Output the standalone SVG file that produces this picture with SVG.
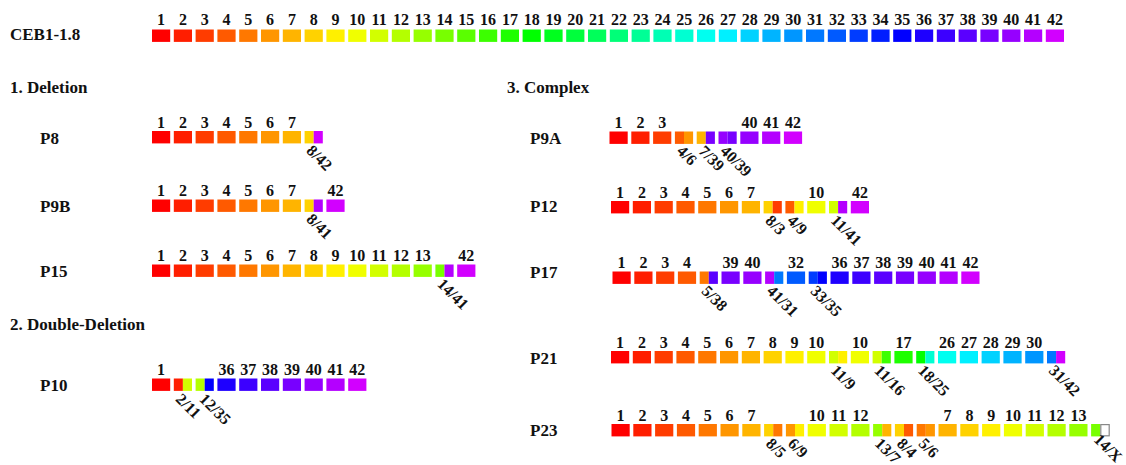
<svg xmlns="http://www.w3.org/2000/svg" width="1126" height="465" viewBox="0 0 1126 465">
<style>
text{font-family:"Liberation Serif","Times New Roman",serif;font-weight:bold;fill:#111}
.n{font-size:16px;text-anchor:middle}
.b{font-size:16px}
.t{font-size:17px}
.c1{fill:hsl(0,100%,50%)}.c2{fill:hsl(7.06,100%,50%)}.c3{fill:hsl(14.12,100%,50%)}.c4{fill:hsl(21.18,100%,50%)}.c5{fill:hsl(28.24,100%,50%)}.c6{fill:hsl(35.29,100%,50%)}.c7{fill:hsl(42.35,100%,50%)}.c8{fill:hsl(49.41,100%,50%)}.c9{fill:hsl(56.47,100%,50%)}.c10{fill:hsl(63.53,100%,50%)}.c11{fill:hsl(70.59,100%,50%)}.c12{fill:hsl(77.65,100%,50%)}.c13{fill:hsl(84.71,100%,50%)}.c14{fill:hsl(91.76,100%,50%)}.c15{fill:hsl(98.82,100%,50%)}.c16{fill:hsl(105.88,100%,50%)}.c17{fill:hsl(112.94,100%,50%)}.c18{fill:hsl(120,100%,50%)}.c19{fill:hsl(127.06,100%,50%)}.c20{fill:hsl(134.12,100%,50%)}.c21{fill:hsl(141.18,100%,50%)}.c22{fill:hsl(148.24,100%,50%)}.c23{fill:hsl(155.29,100%,50%)}.c24{fill:hsl(162.35,100%,50%)}.c25{fill:hsl(169.41,100%,50%)}.c26{fill:hsl(176.47,100%,50%)}.c27{fill:hsl(183.53,100%,50%)}.c28{fill:hsl(190.59,100%,50%)}.c29{fill:hsl(197.65,100%,50%)}.c30{fill:hsl(204.71,100%,50%)}.c31{fill:hsl(211.76,100%,50%)}.c32{fill:hsl(218.82,100%,50%)}.c33{fill:hsl(225.88,100%,50%)}.c34{fill:hsl(232.94,100%,50%)}.c35{fill:hsl(240,100%,50%)}.c36{fill:hsl(247.06,100%,50%)}.c37{fill:hsl(254.12,100%,50%)}.c38{fill:hsl(261.18,100%,50%)}.c39{fill:hsl(268.24,100%,50%)}.c40{fill:hsl(275.29,100%,50%)}.c41{fill:hsl(282.35,100%,50%)}.c42{fill:hsl(289.41,100%,50%)}
.cx{fill:#fff;stroke:#888;stroke-width:1.2}
</style>
<rect width="1126" height="465" fill="#fff"/>

<g id="titles">
<text class="t" x="10" y="93">1. Deletion</text>
<text class="t" x="10" y="329.5">2. Double-Deletion</text>
<text class="t" x="507" y="93">3. Complex</text>
</g>

<g id="CEB1-1.8">
<text class="t" x="10" y="40">CEB1-1.8</text>
<g transform="translate(152,29.5)">
<rect class="c1" x="0" width="18.2" height="12.4"/><rect class="c2" x="21.8" width="18.2" height="12.4"/><rect class="c3" x="43.6" width="18.2" height="12.4"/><rect class="c4" x="65.4" width="18.2" height="12.4"/><rect class="c5" x="87.2" width="18.2" height="12.4"/><rect class="c6" x="109" width="18.2" height="12.4"/><rect class="c7" x="130.8" width="18.2" height="12.4"/><rect class="c8" x="152.6" width="18.2" height="12.4"/><rect class="c9" x="174.4" width="18.2" height="12.4"/><rect class="c10" x="196.2" width="18.2" height="12.4"/><rect class="c11" x="218" width="18.2" height="12.4"/><rect class="c12" x="239.8" width="18.2" height="12.4"/><rect class="c13" x="261.6" width="18.2" height="12.4"/><rect class="c14" x="283.4" width="18.2" height="12.4"/><rect class="c15" x="305.2" width="18.2" height="12.4"/><rect class="c16" x="327" width="18.2" height="12.4"/><rect class="c17" x="348.8" width="18.2" height="12.4"/><rect class="c18" x="370.6" width="18.2" height="12.4"/><rect class="c19" x="392.4" width="18.2" height="12.4"/><rect class="c20" x="414.2" width="18.2" height="12.4"/><rect class="c21" x="436" width="18.2" height="12.4"/><rect class="c22" x="457.8" width="18.2" height="12.4"/><rect class="c23" x="479.6" width="18.2" height="12.4"/><rect class="c24" x="501.4" width="18.2" height="12.4"/><rect class="c25" x="523.2" width="18.2" height="12.4"/><rect class="c26" x="545" width="18.2" height="12.4"/><rect class="c27" x="566.8" width="18.2" height="12.4"/><rect class="c28" x="588.6" width="18.2" height="12.4"/><rect class="c29" x="610.4" width="18.2" height="12.4"/><rect class="c30" x="632.2" width="18.2" height="12.4"/><rect class="c31" x="654" width="18.2" height="12.4"/><rect class="c32" x="675.8" width="18.2" height="12.4"/><rect class="c33" x="697.6" width="18.2" height="12.4"/><rect class="c34" x="719.4" width="18.2" height="12.4"/><rect class="c35" x="741.2" width="18.2" height="12.4"/><rect class="c36" x="763" width="18.2" height="12.4"/><rect class="c37" x="784.8" width="18.2" height="12.4"/><rect class="c38" x="806.6" width="18.2" height="12.4"/><rect class="c39" x="828.4" width="18.2" height="12.4"/><rect class="c40" x="850.2" width="18.2" height="12.4"/><rect class="c41" x="872" width="18.2" height="12.4"/><rect class="c42" x="893.8" width="18.2" height="12.4"/>
<text class="n" x="9.1" y="-5">1</text><text class="n" x="30.9" y="-5">2</text><text class="n" x="52.7" y="-5">3</text><text class="n" x="74.5" y="-5">4</text><text class="n" x="96.3" y="-5">5</text><text class="n" x="118.1" y="-5">6</text><text class="n" x="139.9" y="-5">7</text><text class="n" x="161.7" y="-5">8</text><text class="n" x="183.5" y="-5">9</text><text class="n" x="205.3" y="-5">10</text><text class="n" x="227.1" y="-5">11</text><text class="n" x="248.9" y="-5">12</text><text class="n" x="270.7" y="-5">13</text><text class="n" x="292.5" y="-5">14</text><text class="n" x="314.3" y="-5">15</text><text class="n" x="336.1" y="-5">16</text><text class="n" x="357.9" y="-5">17</text><text class="n" x="379.7" y="-5">18</text><text class="n" x="401.5" y="-5">19</text><text class="n" x="423.3" y="-5">20</text><text class="n" x="445.1" y="-5">21</text><text class="n" x="466.9" y="-5">22</text><text class="n" x="488.7" y="-5">23</text><text class="n" x="510.5" y="-5">24</text><text class="n" x="532.3" y="-5">25</text><text class="n" x="554.1" y="-5">26</text><text class="n" x="575.9" y="-5">27</text><text class="n" x="597.7" y="-5">28</text><text class="n" x="619.5" y="-5">29</text><text class="n" x="641.3" y="-5">30</text><text class="n" x="663.1" y="-5">31</text><text class="n" x="684.9" y="-5">32</text><text class="n" x="706.7" y="-5">33</text><text class="n" x="728.5" y="-5">34</text><text class="n" x="750.3" y="-5">35</text><text class="n" x="772.1" y="-5">36</text><text class="n" x="793.9" y="-5">37</text><text class="n" x="815.7" y="-5">38</text><text class="n" x="837.5" y="-5">39</text><text class="n" x="859.3" y="-5">40</text><text class="n" x="881.1" y="-5">41</text><text class="n" x="902.9" y="-5">42</text>
</g>
</g>

<g id="P8">
<text class="t" x="40" y="143.5">P8</text>
<g transform="translate(152,131)">
<rect class="c1" x="0" width="18.2" height="12.4"/><rect class="c2" x="21.8" width="18.2" height="12.4"/><rect class="c3" x="43.6" width="18.2" height="12.4"/><rect class="c4" x="65.4" width="18.2" height="12.4"/><rect class="c5" x="87.2" width="18.2" height="12.4"/><rect class="c6" x="109" width="18.2" height="12.4"/><rect class="c7" x="130.8" width="18.2" height="12.4"/>
<rect class="c8" x="152.6" width="9.1" height="12.4"/><rect class="c42" x="161.7" width="9.1" height="12.4"/>
<text class="n" x="9.1" y="-3.5">1</text><text class="n" x="30.9" y="-3.5">2</text><text class="n" x="52.7" y="-3.5">3</text><text class="n" x="74.5" y="-3.5">4</text><text class="n" x="96.3" y="-3.5">5</text><text class="n" x="118.1" y="-3.5">6</text><text class="n" x="139.9" y="-3.5">7</text>
<text class="b" transform="translate(153.6,20.5) rotate(45)">8/42</text>
</g>
</g>

<g id="P9B">
<text class="t" x="40" y="212">P9B</text>
<g transform="translate(152,199.5)">
<rect class="c1" x="0" width="18.2" height="12.4"/><rect class="c2" x="21.8" width="18.2" height="12.4"/><rect class="c3" x="43.6" width="18.2" height="12.4"/><rect class="c4" x="65.4" width="18.2" height="12.4"/><rect class="c5" x="87.2" width="18.2" height="12.4"/><rect class="c6" x="109" width="18.2" height="12.4"/><rect class="c7" x="130.8" width="18.2" height="12.4"/>
<rect class="c8" x="152.6" width="9.1" height="12.4"/><rect class="c41" x="161.7" width="9.1" height="12.4"/>
<rect class="c42" x="174.4" width="18.2" height="12.4"/>
<text class="n" x="9.1" y="-3.5">1</text><text class="n" x="30.9" y="-3.5">2</text><text class="n" x="52.7" y="-3.5">3</text><text class="n" x="74.5" y="-3.5">4</text><text class="n" x="96.3" y="-3.5">5</text><text class="n" x="118.1" y="-3.5">6</text><text class="n" x="139.9" y="-3.5">7</text><text class="n" x="183.5" y="-3.5">42</text>
<text class="b" transform="translate(153.6,20.5) rotate(45)">8/41</text>
</g>
</g>

<g id="P15">
<text class="t" x="40" y="277">P15</text>
<g transform="translate(152,264.5)">
<rect class="c1" x="0" width="18.2" height="12.4"/><rect class="c2" x="21.8" width="18.2" height="12.4"/><rect class="c3" x="43.6" width="18.2" height="12.4"/><rect class="c4" x="65.4" width="18.2" height="12.4"/><rect class="c5" x="87.2" width="18.2" height="12.4"/><rect class="c6" x="109" width="18.2" height="12.4"/><rect class="c7" x="130.8" width="18.2" height="12.4"/><rect class="c8" x="152.6" width="18.2" height="12.4"/><rect class="c9" x="174.4" width="18.2" height="12.4"/><rect class="c10" x="196.2" width="18.2" height="12.4"/><rect class="c11" x="218" width="18.2" height="12.4"/><rect class="c12" x="239.8" width="18.2" height="12.4"/><rect class="c13" x="261.6" width="18.2" height="12.4"/>
<rect class="c14" x="283.4" width="9.1" height="12.4"/><rect class="c41" x="292.5" width="9.1" height="12.4"/>
<rect class="c42" x="305.2" width="18.2" height="12.4"/>
<text class="n" x="9.1" y="-3.5">1</text><text class="n" x="30.9" y="-3.5">2</text><text class="n" x="52.7" y="-3.5">3</text><text class="n" x="74.5" y="-3.5">4</text><text class="n" x="96.3" y="-3.5">5</text><text class="n" x="118.1" y="-3.5">6</text><text class="n" x="139.9" y="-3.5">7</text><text class="n" x="161.7" y="-3.5">8</text><text class="n" x="183.5" y="-3.5">9</text><text class="n" x="205.3" y="-3.5">10</text><text class="n" x="227.1" y="-3.5">11</text><text class="n" x="248.9" y="-3.5">12</text><text class="n" x="270.7" y="-3.5">13</text><text class="n" x="314.3" y="-3.5">42</text>
<text class="b" transform="translate(284.4,20.5) rotate(45)">14/41</text>
</g>
</g>

<g id="P10">
<text class="t" x="40" y="391">P10</text>
<g transform="translate(152,378.5)">
<rect class="c1" x="0" width="18.2" height="12.4"/>
<rect class="c2" x="21.8" width="9.1" height="12.4"/><rect class="c11" x="30.9" width="9.1" height="12.4"/>
<rect class="c12" x="43.6" width="9.1" height="12.4"/><rect class="c35" x="52.7" width="9.1" height="12.4"/>
<rect class="c36" x="65.4" width="18.2" height="12.4"/><rect class="c37" x="87.2" width="18.2" height="12.4"/><rect class="c38" x="109" width="18.2" height="12.4"/><rect class="c39" x="130.8" width="18.2" height="12.4"/><rect class="c40" x="152.6" width="18.2" height="12.4"/><rect class="c41" x="174.4" width="18.2" height="12.4"/><rect class="c42" x="196.2" width="18.2" height="12.4"/>
<text class="n" x="9.1" y="-3.5">1</text><text class="n" x="74.5" y="-3.5">36</text><text class="n" x="96.3" y="-3.5">37</text><text class="n" x="118.1" y="-3.5">38</text><text class="n" x="139.9" y="-3.5">39</text><text class="n" x="161.7" y="-3.5">40</text><text class="n" x="183.5" y="-3.5">41</text><text class="n" x="205.3" y="-3.5">42</text>
<text class="b" transform="translate(22.8,21.5) rotate(45)">2/11</text>
<text class="b" transform="translate(46.6,21.5) rotate(45)">12/35</text>
</g>
</g>

<g id="P9A">
<text class="t" x="530" y="143.5">P9A</text>
<g transform="translate(609.5,131.5)">
<rect class="c1" x="0" width="18.2" height="12.4"/><rect class="c2" x="21.8" width="18.2" height="12.4"/><rect class="c3" x="43.6" width="18.2" height="12.4"/>
<rect class="c4" x="65.4" width="9.1" height="12.4"/><rect class="c6" x="74.5" width="9.1" height="12.4"/>
<rect class="c7" x="87.2" width="9.1" height="12.4"/><rect class="c39" x="96.3" width="9.1" height="12.4"/>
<rect class="c40" x="109" width="9.1" height="12.4"/><rect class="c39" x="118.1" width="9.1" height="12.4"/>
<rect class="c40" x="130.8" width="18.2" height="12.4"/><rect class="c41" x="152.6" width="18.2" height="12.4"/><rect class="c42" x="174.4" width="18.2" height="12.4"/>
<text class="n" x="9.1" y="-3.5">1</text><text class="n" x="30.9" y="-3.5">2</text><text class="n" x="52.7" y="-3.5">3</text><text class="n" x="139.9" y="-3.5">40</text><text class="n" x="161.7" y="-3.5">41</text><text class="n" x="183.5" y="-3.5">42</text>
<text class="b" transform="translate(66.4,20.5) rotate(45)">4/6</text>
<text class="b" transform="translate(88.2,20.5) rotate(45)">7/39</text>
<text class="b" transform="translate(110,20.5) rotate(45)">40/39</text>
</g>
</g>

<g id="P12">
<text class="t" x="530" y="212">P12</text>
<g transform="translate(611,201)">
<rect class="c1" x="0" width="18.2" height="12.4"/><rect class="c2" x="21.8" width="18.2" height="12.4"/><rect class="c3" x="43.6" width="18.2" height="12.4"/><rect class="c4" x="65.4" width="18.2" height="12.4"/><rect class="c5" x="87.2" width="18.2" height="12.4"/><rect class="c6" x="109" width="18.2" height="12.4"/><rect class="c7" x="130.8" width="18.2" height="12.4"/>
<rect class="c8" x="152.6" width="9.1" height="12.4"/><rect class="c3" x="161.7" width="9.1" height="12.4"/>
<rect class="c4" x="174.4" width="9.1" height="12.4"/><rect class="c9" x="183.5" width="9.1" height="12.4"/>
<rect class="c10" x="196.2" width="18.2" height="12.4"/>
<rect class="c11" x="218" width="9.1" height="12.4"/><rect class="c41" x="227.1" width="9.1" height="12.4"/>
<rect class="c42" x="239.8" width="18.2" height="12.4"/>
<text class="n" x="9.1" y="-3.5">1</text><text class="n" x="30.9" y="-3.5">2</text><text class="n" x="52.7" y="-3.5">3</text><text class="n" x="74.5" y="-3.5">4</text><text class="n" x="96.3" y="-3.5">5</text><text class="n" x="118.1" y="-3.5">6</text><text class="n" x="139.9" y="-3.5">7</text><text class="n" x="205.3" y="-3.5">10</text><text class="n" x="248.9" y="-3.5">42</text>
<text class="b" transform="translate(153.6,20.5) rotate(45)">8/3</text>
<text class="b" transform="translate(175.4,20.5) rotate(45)">4/9</text>
<text class="b" transform="translate(219,20.5) rotate(45)">11/41</text>
</g>
</g>

<g id="P17">
<text class="t" x="530" y="277.5">P17</text>
<g transform="translate(612.5,271.5)">
<rect class="c1" x="0" width="18.2" height="12.4"/><rect class="c2" x="21.8" width="18.2" height="12.4"/><rect class="c3" x="43.6" width="18.2" height="12.4"/><rect class="c4" x="65.4" width="18.2" height="12.4"/>
<rect class="c5" x="87.2" width="9.1" height="12.4"/><rect class="c38" x="96.3" width="9.1" height="12.4"/>
<rect class="c39" x="109" width="18.2" height="12.4"/><rect class="c40" x="130.8" width="18.2" height="12.4"/>
<rect class="c41" x="152.6" width="9.1" height="12.4"/><rect class="c31" x="161.7" width="9.1" height="12.4"/>
<rect class="c32" x="174.4" width="18.2" height="12.4"/>
<rect class="c33" x="196.2" width="9.1" height="12.4"/><rect class="c35" x="205.3" width="9.1" height="12.4"/>
<rect class="c36" x="218" width="18.2" height="12.4"/><rect class="c37" x="239.8" width="18.2" height="12.4"/><rect class="c38" x="261.6" width="18.2" height="12.4"/><rect class="c39" x="283.4" width="18.2" height="12.4"/><rect class="c40" x="305.2" width="18.2" height="12.4"/><rect class="c41" x="327" width="18.2" height="12.4"/><rect class="c42" x="348.8" width="18.2" height="12.4"/>
<text class="n" x="9.1" y="-3.5">1</text><text class="n" x="30.9" y="-3.5">2</text><text class="n" x="52.7" y="-3.5">3</text><text class="n" x="74.5" y="-3.5">4</text><text class="n" x="118.1" y="-3.5">39</text><text class="n" x="139.9" y="-3.5">40</text><text class="n" x="183.5" y="-3.5">32</text><text class="n" x="227.1" y="-3.5">36</text><text class="n" x="248.9" y="-3.5">37</text><text class="n" x="270.7" y="-3.5">38</text><text class="n" x="292.5" y="-3.5">39</text><text class="n" x="314.3" y="-3.5">40</text><text class="n" x="336.1" y="-3.5">41</text><text class="n" x="357.9" y="-3.5">42</text>
<text class="b" transform="translate(88.2,20.5) rotate(45)">5/38</text>
<text class="b" transform="translate(153.6,20.5) rotate(45)">41/31</text>
<text class="b" transform="translate(197.2,20.5) rotate(45)">33/35</text>
</g>
</g>

<g id="P21">
<text class="t" x="530" y="363.5">P21</text>
<g transform="translate(611,351)">
<rect class="c1" x="0" width="18.2" height="12.4"/><rect class="c2" x="21.8" width="18.2" height="12.4"/><rect class="c3" x="43.6" width="18.2" height="12.4"/><rect class="c4" x="65.4" width="18.2" height="12.4"/><rect class="c5" x="87.2" width="18.2" height="12.4"/><rect class="c6" x="109" width="18.2" height="12.4"/><rect class="c7" x="130.8" width="18.2" height="12.4"/><rect class="c8" x="152.6" width="18.2" height="12.4"/><rect class="c9" x="174.4" width="18.2" height="12.4"/><rect class="c10" x="196.2" width="18.2" height="12.4"/>
<rect class="c11" x="218" width="9.1" height="12.4"/><rect class="c9" x="227.1" width="9.1" height="12.4"/>
<rect class="c10" x="239.8" width="18.2" height="12.4"/>
<rect class="c11" x="261.6" width="9.1" height="12.4"/><rect class="c16" x="270.7" width="9.1" height="12.4"/>
<rect class="c17" x="283.4" width="18.2" height="12.4"/>
<rect class="c18" x="305.2" width="9.1" height="12.4"/><rect class="c25" x="314.3" width="9.1" height="12.4"/>
<rect class="c26" x="327" width="18.2" height="12.4"/><rect class="c27" x="348.8" width="18.2" height="12.4"/><rect class="c28" x="370.6" width="18.2" height="12.4"/><rect class="c29" x="392.4" width="18.2" height="12.4"/><rect class="c30" x="414.2" width="18.2" height="12.4"/>
<rect class="c31" x="436" width="9.1" height="12.4"/><rect class="c42" x="445.1" width="9.1" height="12.4"/>
<text class="n" x="9.1" y="-3.5">1</text><text class="n" x="30.9" y="-3.5">2</text><text class="n" x="52.7" y="-3.5">3</text><text class="n" x="74.5" y="-3.5">4</text><text class="n" x="96.3" y="-3.5">5</text><text class="n" x="118.1" y="-3.5">6</text><text class="n" x="139.9" y="-3.5">7</text><text class="n" x="161.7" y="-3.5">8</text><text class="n" x="183.5" y="-3.5">9</text><text class="n" x="205.3" y="-3.5">10</text><text class="n" x="248.9" y="-3.5">10</text><text class="n" x="292.5" y="-3.5">17</text><text class="n" x="336.1" y="-3.5">26</text><text class="n" x="357.9" y="-3.5">27</text><text class="n" x="379.7" y="-3.5">28</text><text class="n" x="401.5" y="-3.5">29</text><text class="n" x="423.3" y="-3.5">30</text>
<text class="b" transform="translate(219,20.5) rotate(45)">11/9</text>
<text class="b" transform="translate(262.6,20.5) rotate(45)">11/16</text>
<text class="b" transform="translate(306.2,20.5) rotate(45)">18/25</text>
<text class="b" transform="translate(437,20.5) rotate(45)">31/42</text>
</g>
</g>

<g id="P23">
<text class="t" x="530" y="436">P23</text>
<g transform="translate(611.5,424)">
<rect class="c1" x="0" width="18.2" height="12.4"/><rect class="c2" x="21.8" width="18.2" height="12.4"/><rect class="c3" x="43.6" width="18.2" height="12.4"/><rect class="c4" x="65.4" width="18.2" height="12.4"/><rect class="c5" x="87.2" width="18.2" height="12.4"/><rect class="c6" x="109" width="18.2" height="12.4"/><rect class="c7" x="130.8" width="18.2" height="12.4"/>
<rect class="c8" x="152.6" width="9.1" height="12.4"/><rect class="c5" x="161.7" width="9.1" height="12.4"/>
<rect class="c6" x="174.4" width="9.1" height="12.4"/><rect class="c9" x="183.5" width="9.1" height="12.4"/>
<rect class="c10" x="196.2" width="18.2" height="12.4"/><rect class="c11" x="218" width="18.2" height="12.4"/><rect class="c12" x="239.8" width="18.2" height="12.4"/>
<rect class="c13" x="261.6" width="9.1" height="12.4"/><rect class="c7" x="270.7" width="9.1" height="12.4"/>
<rect class="c8" x="283.4" width="9.1" height="12.4"/><rect class="c4" x="292.5" width="9.1" height="12.4"/>
<rect class="c5" x="305.2" width="9.1" height="12.4"/><rect class="c6" x="314.3" width="9.1" height="12.4"/>
<rect class="c7" x="327" width="18.2" height="12.4"/><rect class="c8" x="348.8" width="18.2" height="12.4"/><rect class="c9" x="370.6" width="18.2" height="12.4"/><rect class="c10" x="392.4" width="18.2" height="12.4"/><rect class="c11" x="414.2" width="18.2" height="12.4"/><rect class="c12" x="436" width="18.2" height="12.4"/><rect class="c13" x="457.8" width="18.2" height="12.4"/>
<rect class="c14" x="479.6" width="9.1" height="12.4"/><rect class="cx" x="489.3" y="0.6" width="8.4" height="11.2"/>
<text class="n" x="9.1" y="-3.5">1</text><text class="n" x="30.9" y="-3.5">2</text><text class="n" x="52.7" y="-3.5">3</text><text class="n" x="74.5" y="-3.5">4</text><text class="n" x="96.3" y="-3.5">5</text><text class="n" x="118.1" y="-3.5">6</text><text class="n" x="139.9" y="-3.5">7</text><text class="n" x="205.3" y="-3.5">10</text><text class="n" x="227.1" y="-3.5">11</text><text class="n" x="248.9" y="-3.5">12</text><text class="n" x="336.1" y="-3.5">7</text><text class="n" x="357.9" y="-3.5">8</text><text class="n" x="379.7" y="-3.5">9</text><text class="n" x="401.5" y="-3.5">10</text><text class="n" x="423.3" y="-3.5">11</text><text class="n" x="445.1" y="-3.5">12</text><text class="n" x="466.9" y="-3.5">13</text>
<text class="b" transform="translate(153.6,20.5) rotate(45)">8/5</text>
<text class="b" transform="translate(175.4,20.5) rotate(45)">6/9</text>
<text class="b" transform="translate(262.6,20.5) rotate(45)">13/7</text>
<text class="b" transform="translate(284.4,20.5) rotate(45)">8/4</text>
<text class="b" transform="translate(306.2,20.5) rotate(45)">5/6</text>
<text class="b" transform="translate(481.6,16.5) rotate(45)">14/X</text>
</g>
</g>
</svg>
